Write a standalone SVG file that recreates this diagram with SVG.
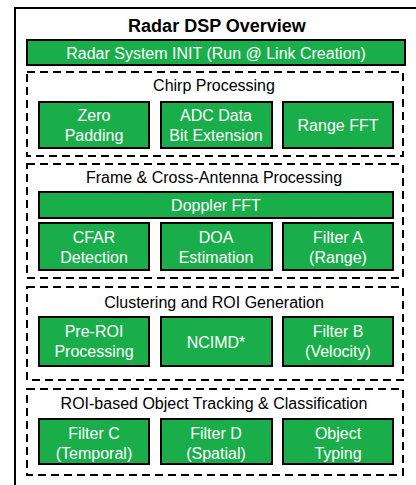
<svg xmlns="http://www.w3.org/2000/svg" width="416" height="485" viewBox="0 0 416 485">
<style>
text{font-family:"Liberation Sans",Arial,sans-serif;font-size:16px;text-anchor:middle}
.t{font-weight:bold;font-size:18px;fill:#000}
.g{fill:#000}
.w{fill:#fff}
.box{fill:#1aae4b;stroke:#000;stroke-width:2}
.grp{fill:none;stroke:#000;stroke-width:2;stroke-dasharray:8 5}
</style>
<rect width="416" height="485" fill="#fff"/>
<path d="M15,485 V8 H416" fill="none" stroke="#000" stroke-width="2"/>
<g id="title"><text class="t" x="217" y="32">Radar DSP Overview</text></g>
<g id="init"><rect class="box" x="27" y="40" width="378" height="25"/><text class="w" x="216" y="59">Radar System INIT (Run @ Link Creation)</text></g>

<g id="chirp"><rect class="grp" x="27" y="72" width="376" height="84"/><text class="g" x="214" y="91">Chirp Processing</text></g>
<g id="zero"><rect class="box" x="39" y="102" width="110" height="46"/><text class="w" x="94" y="121">Zero</text><text class="w" x="94" y="141">Padding</text></g>
<g id="adc"><rect class="box" x="161" y="102" width="111" height="46"/><text class="w" x="216" y="121">ADC Data</text><text class="w" x="216" y="141">Bit Extension</text></g>
<g id="range"><rect class="box" x="283" y="102" width="110" height="46"/><text class="w" x="338" y="131">Range FFT</text></g>

<g id="frame"><rect class="grp" x="27" y="164" width="376" height="114"/><text class="g" x="214" y="183">Frame &amp; Cross-Antenna Processing</text></g>
<g id="doppler"><rect class="box" x="39" y="192" width="354" height="26"/><text class="w" x="216" y="211">Doppler FFT</text></g>
<g id="cfar"><rect class="box" x="39" y="223" width="110" height="47"/><text class="w" x="94" y="243">CFAR</text><text class="w" x="94" y="263">Detection</text></g>
<g id="doa"><rect class="box" x="161" y="223" width="111" height="47"/><text class="w" x="216" y="243">DOA</text><text class="w" x="216" y="263">Estimation</text></g>
<g id="filterA"><rect class="box" x="283" y="223" width="110" height="47"/><text class="w" x="338" y="243">Filter A</text><text class="w" x="338" y="263">(Range)</text></g>

<g id="cluster"><rect class="grp" x="27" y="287" width="376" height="93"/><text class="g" x="214" y="308">Clustering and ROI Generation</text></g>
<g id="preroi"><rect class="box" x="39" y="317" width="110" height="49"/><text class="w" x="94" y="337">Pre-ROI</text><text class="w" x="94" y="357">Processing</text></g>
<g id="ncimd"><rect class="box" x="161" y="317" width="111" height="49"/><text class="w" x="216" y="348">NCIMD*</text></g>
<g id="filterB"><rect class="box" x="283" y="317" width="110" height="49"/><text class="w" x="338" y="337">Filter B</text><text class="w" x="338" y="357">(Velocity)</text></g>

<g id="roi"><rect class="grp" x="27" y="389" width="376" height="86"/><text class="g" x="214" y="409">ROI-based Object Tracking &amp; Classification</text></g>
<g id="filterC"><rect class="box" x="39" y="419" width="110" height="45"/><text class="w" x="94" y="439">Filter C</text><text class="w" x="94" y="459">(Temporal)</text></g>
<g id="filterD"><rect class="box" x="161" y="419" width="111" height="45"/><text class="w" x="216" y="439">Filter D</text><text class="w" x="216" y="459">(Spatial)</text></g>
<g id="typing"><rect class="box" x="283" y="419" width="110" height="45"/><text class="w" x="338" y="439">Object</text><text class="w" x="338" y="459">Typing</text></g>

<g id="connectors"></g>
</svg>
